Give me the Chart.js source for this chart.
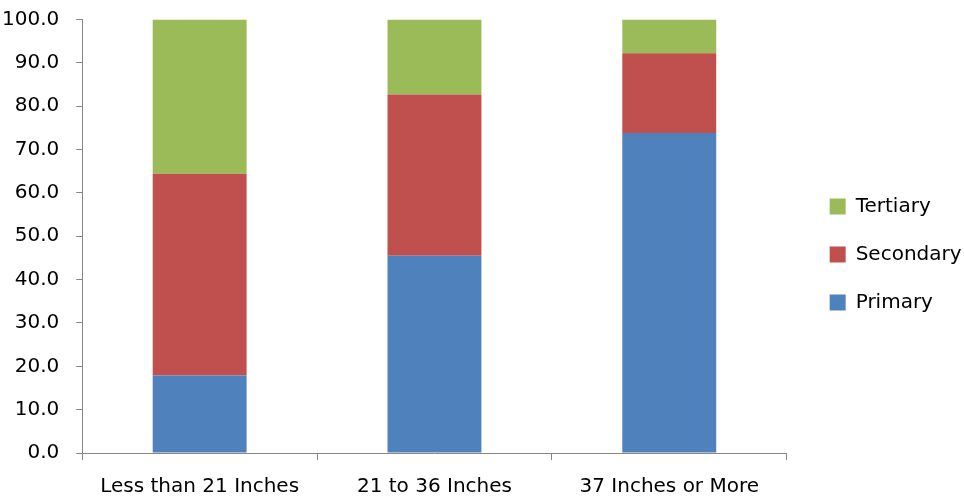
<!DOCTYPE html>
<html>
<head>
<meta charset="utf-8">
<script src="https://cdn.jsdelivr.net/npm/chart.js@4"></script>
<style>
  html, body { margin: 0; padding: 0; background: #fff; }
  #wrap { width: 964px; height: 501px; }
</style>
</head>
<body>
<div id="wrap"><canvas id="c" width="964" height="501"></canvas></div>
<script>
// TV screen size groups and the share (%) of each tier
const categories = ["Less than 21 Inches", "21 to 36 Inches", "37 Inches or More"];
const primary   = [17.9, 45.5, 73.8];
const secondary = [46.5, 37.2, 18.4];
const tertiary  = [35.6, 17.3, 7.8];

const axisColor = "#868686";
const font = { family: "'DejaVu Sans', sans-serif", size: 20 };

new Chart(document.getElementById("c"), {
  type: "bar",
  data: {
    labels: categories,
    datasets: [
      { label: "Primary",   data: primary,   backgroundColor: "#4F81BD" },
      { label: "Secondary", data: secondary, backgroundColor: "#C0504D" },
      { label: "Tertiary",  data: tertiary,  backgroundColor: "#9BBB59" }
    ]
  },
  options: {
    responsive: false,
    animation: false,
    layout: { padding: { top: -5, left: -15, right: -1, bottom: -13 } },
    datasets: { bar: { barPercentage: 0.4, categoryPercentage: 1.0 } },
    plugins: {
      tooltip: { enabled: false },
      legend: {
        position: "right",
        reverse: true,
        labels: {
          color: "#000",
          font: font,
          boxWidth: 16,
          boxHeight: 16,
          padding: 28
        }
      }
    },
    scales: {
      x: {
        stacked: true,
        grid: { drawOnChartArea: false, color: axisColor, tickLength: 7, offset: true },
        border: { color: axisColor, width: 1 },
        ticks: { color: "#000", font: { ...font, lineHeight: 1 }, padding: 17, maxRotation: 0 }
      },
      y: {
        stacked: true,
        min: 0,
        max: 100,
        grid: { drawOnChartArea: false, color: axisColor, tickLength: 6 },
        border: { color: axisColor, width: 1 },
        ticks: {
          stepSize: 10,
          color: "#000",
          font: { ...font, lineHeight: 0.25 },
          padding: 17,
          callback: v => Number(v).toFixed(1)
        }
      },
      // empty spacer between the plot and the legend
      gap: {
        type: "linear",
        position: "right",
        display: true,
        ticks: { display: false },
        grid: { display: false },
        border: { display: false },
        afterFit: s => { s.width = 15; }
      }
    }
  }
});
</script>
</body>
</html>
